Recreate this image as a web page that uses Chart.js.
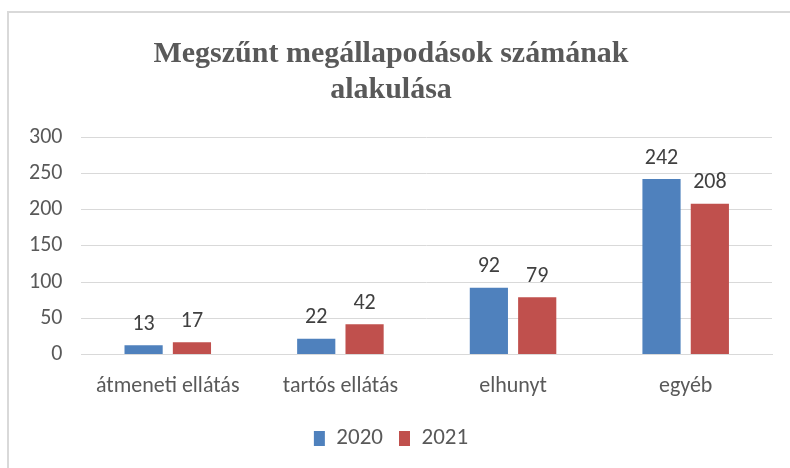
<!DOCTYPE html>
<html>
<head>
<meta charset="utf-8">
<script src="https://cdn.jsdelivr.net/npm/chart.js@4"></script>
<style>
  html, body { margin: 0; padding: 0; background: #fff; }
  #wrap { position: relative; width: 790px; height: 468px; overflow: hidden; }
  #frame { position: absolute; left: 7px; top: 11px; width: 820px; height: 500px;
           border-left: 2px solid #d9d9d9; border-top: 2px solid #d9d9d9; }
  canvas { position: absolute; left: 0; top: 0; }
</style>
</head>
<body>
<div id="wrap">
  <div id="frame"></div>
  <canvas id="chart" width="790" height="468"></canvas>
</div>
<script>
const categories = ['átmeneti ellátás', 'tartós ellátás', 'elhunyt', 'egyéb'];
const values2020 = [13, 22, 92, 242];
const values2021 = [17, 42, 79, 208];
const yTicks = [0, 50, 100, 150, 200, 250, 300];

const sansFont = 'Carlito, Lato, sans-serif';

// cimkek a bar-ok folott
const valueLabels = {
  id: 'valueLabels',
  afterDatasetsDraw(chart) {
    const ctx = chart.ctx;
    ctx.save();
    ctx.font = '22px ' + sansFont;
    ctx.fillStyle = '#404040';
    ctx.textAlign = 'center';
    ctx.textBaseline = 'bottom';
    chart.data.datasets.forEach((ds, i) => {
      chart.getDatasetMeta(i).data.forEach((bar, j) => {
        ctx.fillText(ds.data[j], bar.x, bar.y - 10);
      });
    });
    ctx.restore();
  }
};

new Chart(document.getElementById('chart'), {
  type: 'bar',
  data: {
    labels: categories,
    datasets: [
      { label: '2020', data: values2020, backgroundColor: '#4f81bd' },
      { label: '2021', data: values2021, backgroundColor: '#c0504d' }
    ]
  },
  options: {
    responsive: false,
    animation: false,
    datasets: { bar: { categoryPercentage: 0.56, barPercentage: 0.79 } },
    layout: { padding: { left: 10, right: 18, top: 36, bottom: 8 } },
    plugins: {
      title: {
        display: true,
        text: ['Megszűnt megállapodások számának', 'alakulása'],
        color: '#595959',
        font: { family: '"Liberation Serif", serif', size: 30, weight: 'bold', lineHeight: 1.2 },
        padding: { top: 0, bottom: 29 }
      },
      legend: {
        position: 'bottom',
        labels: {
          color: '#595959',
          font: { family: sansFont, size: 23 },
          boxWidth: 11,
          boxHeight: 15,
          padding: 16
        }
      },
      tooltip: { enabled: false }
    },
    scales: {
      x: {
        grid: { display: false },
        border: { color: '#d9d9d9' },
        ticks: { color: '#595959', font: { family: sansFont, size: 22 }, padding: 11 }
      },
      y: {
        min: 0,
        max: 300,
        afterBuildTicks: axis => { axis.ticks = yTicks.map(v => ({ value: v })); },
        grid: { color: '#d9d9d9', drawTicks: false },
        border: { display: false },
        ticks: { color: '#595959', font: { family: sansFont, size: 22 }, padding: 19 }
      }
    }
  },
  plugins: [valueLabels]
});
</script>
</body>
</html>
